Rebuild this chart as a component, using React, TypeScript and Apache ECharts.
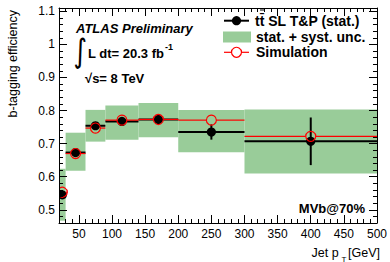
import React, { useEffect, useRef } from 'react';
import * as echarts from 'echarts';

// ---- data ----
const binLow = [20, 30, 60, 90, 140, 200, 300];
const binHigh = [30, 60, 90, 140, 200, 300, 500];
const binCenter = [25, 45, 75, 115, 170, 250, 400];
const dataEff = [0.545, 0.673, 0.754, 0.767, 0.773, 0.735, 0.707];
const dataStat = [0.008, 0.006, 0.006, 0.006, 0.006, 0.023, 0.072];
const simEff = [0.553, 0.670, 0.747, 0.771, 0.773, 0.771, 0.722];
const bandLow = [0.467, 0.618, 0.706, 0.712, 0.719, 0.674, 0.610];
const bandHigh = [0.624, 0.733, 0.802, 0.815, 0.823, 0.802, 0.803];
const xTickValues = [50, 100, 150, 200, 250, 300, 350, 400, 450, 500];
const yTickValues = [0.5, 0.6, 0.7, 0.8, 0.9, 1.0, 1.1];

const FONT = '"Liberation Sans", Arial, Helvetica, sans-serif';
const GREEN = '#99cc99';
const RED = '#ff0000';

function txt(text: string, x: number, y: number, size: number, opts: any = {}) {
  const align = opts.align || 'left';
  return {
    type: 'text',
    x,
    y,
    rotation: opts.rotation || 0,
    scaleY: opts.scaleY || 1,
    z: 100,
    style: {
      text,
      fontSize: size,
      fontFamily: opts.family || FONT,
      fontWeight: opts.weight || 'normal',
      fontStyle: opts.style || 'normal',
      fill: opts.color || '#000',
      align,
      textAlign: align,
      verticalAlign: 'middle',
      textVerticalAlign: 'middle',
    },
  };
}

export default function App() {
  const ref = useRef<HTMLDivElement>(null);

  useEffect(() => {
    document.body.style.margin = '0';
    if (!ref.current) return;
    const chart = echarts.init(ref.current, undefined, { renderer: 'svg' });

    const axisLineStyle = { color: '#000', width: 1 };
    const xMajor = (pos: string, labels: boolean) => ({
      type: 'value', min: 20, max: 500, position: pos, z: 10,
      splitLine: { show: false },
      axisLine: { show: true, onZero: false, lineStyle: axisLineStyle },
      axisTick: { show: true, inside: true, length: 8, customValues: xTickValues, lineStyle: axisLineStyle },
      axisLabel: labels
        ? { show: true, customValues: xTickValues, color: '#000', fontSize: 12, fontFamily: FONT, margin: 5 }
        : { show: false },
    });
    const xMinor = (pos: string) => ({
      type: 'value', min: 20, max: 500, interval: 10, position: pos, z: 10,
      splitLine: { show: false },
      axisLine: { show: false, onZero: false },
      axisTick: { show: true, inside: true, length: 4, lineStyle: axisLineStyle },
      axisLabel: { show: false },
    });
    const yMajor = (pos: string, labels: boolean) => ({
      type: 'value', min: 0.46, max: 1.11, position: pos, z: 10,
      splitLine: { show: false },
      axisLine: { show: true, onZero: false, lineStyle: axisLineStyle },
      axisTick: { show: true, inside: true, length: 8, customValues: yTickValues, lineStyle: axisLineStyle },
      axisLabel: labels
        ? { show: true, customValues: yTickValues, color: '#000', fontSize: 12, fontFamily: FONT, margin: 4,
            formatter: (v: number) => String(Math.round(v * 10) / 10) }
        : { show: false },
    });
    const yMinor = (pos: string) => ({
      type: 'value', min: 0.46, max: 1.11, interval: 0.02, position: pos, z: 10,
      splitLine: { show: false },
      axisLine: { show: false, onZero: false },
      axisTick: { show: true, inside: true, length: 4, lineStyle: axisLineStyle },
      axisLabel: { show: false },
    });

    const bandData = binLow.map((l, i) => [l, binHigh[i], bandLow[i], bandHigh[i]]);
    const pointData = binLow.map((l, i) => [l, binHigh[i], binCenter[i], dataEff[i], dataStat[i]]);
    const simData = binLow.map((l, i) => [l, binHigh[i], binCenter[i], simEff[i]]);

    const option: any = {
      animation: false,
      backgroundColor: '#fff',
      grid: { left: 59, right: 12, top: 8, bottom: 39, containLabel: false },
      xAxis: [xMajor('bottom', true), xMinor('bottom'), xMajor('top', false), xMinor('top')],
      yAxis: [yMajor('left', true), yMinor('left'), yMajor('right', false), yMinor('right')],
      series: [
        {
          type: 'custom', xAxisIndex: 0, yAxisIndex: 0, z: 1, clip: true,
          encode: { x: [0, 1], y: [2, 3] },
          data: bandData,
          renderItem: (_p: any, api: any) => {
            const a = api.coord([api.value(0), api.value(3)]);
            const b = api.coord([api.value(1), api.value(2)]);
            return {
              type: 'rect',
              shape: { x: a[0], y: a[1], width: b[0] - a[0], height: b[1] - a[1] },
              style: { fill: GREEN },
            };
          },
        },
        {
          type: 'custom', xAxisIndex: 0, yAxisIndex: 0, z: 2, clip: true,
          encode: { x: [0, 1, 2], y: [3] },
          data: pointData,
          renderItem: (_p: any, api: any) => {
            const lo = api.value(0), hi = api.value(1), c = api.value(2), v = api.value(3), e = api.value(4);
            const pL = api.coord([lo, v]);
            const pR = api.coord([hi, v]);
            const pC = api.coord([c, v]);
            const pT = api.coord([c, v + e]);
            const pB = api.coord([c, v - e]);
            return {
              type: 'group',
              children: [
                { type: 'line', shape: { x1: pL[0], y1: pL[1], x2: pR[0], y2: pR[1] }, style: { stroke: '#000', lineWidth: 2 } },
                { type: 'line', shape: { x1: pT[0], y1: pT[1], x2: pB[0], y2: pB[1] }, style: { stroke: '#000', lineWidth: 2 } },
                { type: 'circle', shape: { cx: pC[0], cy: pC[1], r: 4.6 }, style: { fill: '#000' } },
              ],
            };
          },
        },
        {
          type: 'custom', xAxisIndex: 0, yAxisIndex: 0, z: 3, clip: true,
          encode: { x: [0, 1, 2], y: [3] },
          data: simData,
          renderItem: (_p: any, api: any) => {
            const lo = api.value(0), hi = api.value(1), c = api.value(2), v = api.value(3);
            const pL = api.coord([lo, v]);
            const pR = api.coord([hi, v]);
            const pC = api.coord([c, v]);
            const r = 5;
            return {
              type: 'group',
              children: [
                { type: 'line', shape: { x1: pL[0], y1: pL[1], x2: pC[0] - r, y2: pC[1] }, style: { stroke: RED, lineWidth: 1.2 } },
                { type: 'line', shape: { x1: pC[0] + r, y1: pC[1], x2: pR[0], y2: pR[1] }, style: { stroke: RED, lineWidth: 1.2 } },
                { type: 'circle', shape: { cx: pC[0], cy: pC[1], r }, style: { fill: 'none', stroke: RED, lineWidth: 1.2 } },
              ],
            };
          },
        },
      ],
      graphic: [
        txt('b-tagging efficiency', 13, 10, 12.5, { align: 'right', rotation: Math.PI / 2 }),
        txt('ATLAS Preliminary', 76, 28.5, 13, { weight: 'bold', style: 'italic' }),
        txt('\u222B', 73.5, 51, 26, { family: '"DejaVu Sans", sans-serif', scaleY: 1.25 }),
        txt('L dt= 20.3 fb', 88, 53, 13, { weight: 'bold' }),
        txt('-1', 165, 47, 9, { weight: 'bold' }),
        txt('\u221As= 8 TeV', 85, 78, 13, { weight: 'bold' }),
        txt('MVb@70%', 365, 208, 13, { weight: 'bold', align: 'right' }),
        // legend
        { type: 'line', z: 100, shape: { x1: 224, y1: 20.7, x2: 249, y2: 20.7 }, style: { stroke: '#000', lineWidth: 2 } },
        { type: 'circle', z: 100, shape: { cx: 236.5, cy: 20.7, r: 4.6 }, style: { fill: '#000' } },
        txt('tt\u0304 SL T&P (stat.)', 255, 20.7, 14, { weight: 'bold' }),
        { type: 'line', z: 100, shape: { x1: 260, y1: 10, x2: 264.5, y2: 10 }, style: { stroke: '#000', lineWidth: 1 } },
        { type: 'rect', z: 100, shape: { x: 223, y: 31.5, width: 28, height: 11 }, style: { fill: GREEN } },
        txt('stat. + syst. unc.', 256, 37, 14, { weight: 'bold' }),
        { type: 'line', z: 100, shape: { x1: 224, y1: 52.3, x2: 231.5, y2: 52.3 }, style: { stroke: RED, lineWidth: 1.2 } },
        { type: 'line', z: 100, shape: { x1: 241.5, y1: 52.3, x2: 249, y2: 52.3 }, style: { stroke: RED, lineWidth: 1.2 } },
        { type: 'circle', z: 100, shape: { cx: 236.5, cy: 52.3, r: 5 }, style: { fill: 'none', stroke: RED, lineWidth: 1.2 } },
        txt('Simulation', 256, 52.3, 14, { weight: 'bold' }),
        // x axis title
        txt('Jet p', 311.5, 253, 12.5),
        txt('T', 341.5, 259, 8),
        txt('[GeV]', 380, 253, 12.5, { align: 'right' }),
      ],
    };

    chart.setOption(option);
    return () => chart.dispose();
  }, []);

  return <div ref={ref} style={{ width: 390, height: 262 }} />;
}
